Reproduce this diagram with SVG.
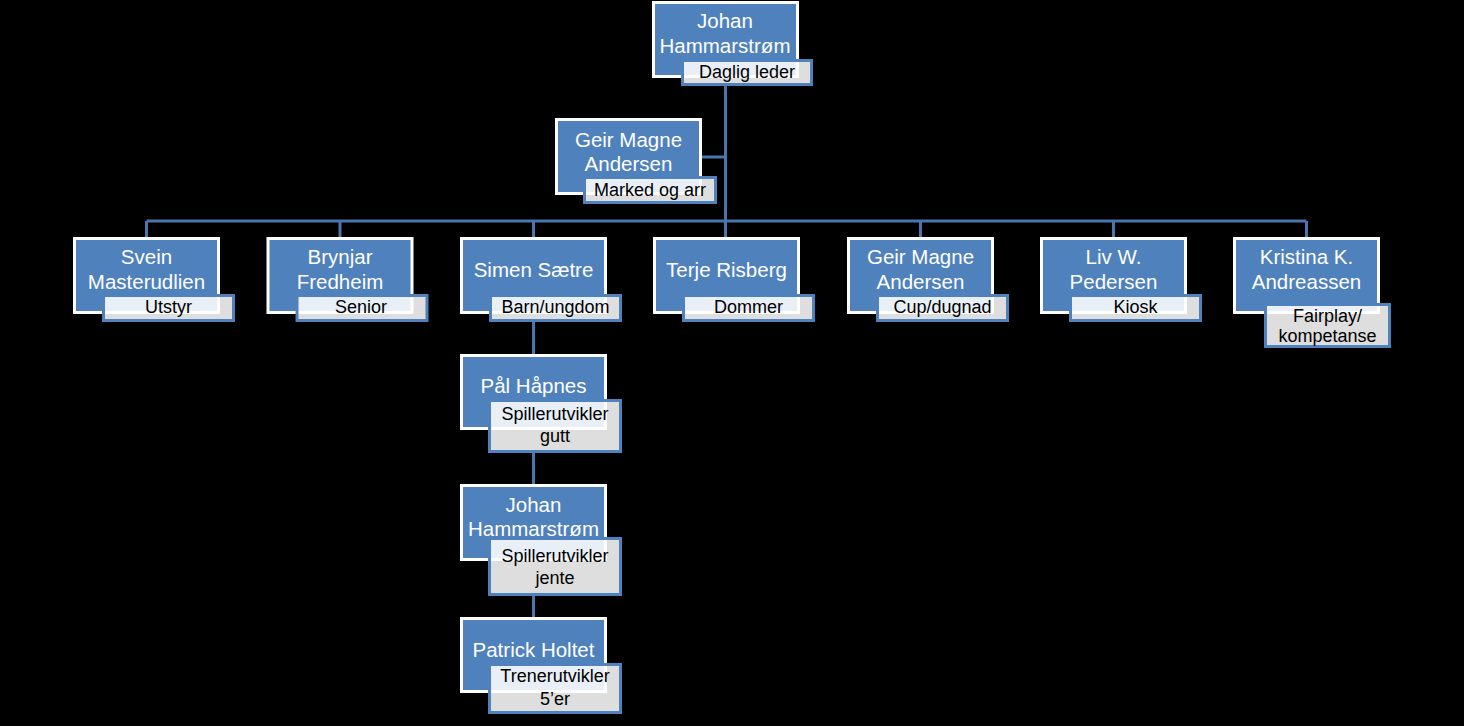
<svg xmlns="http://www.w3.org/2000/svg" width="1464" height="726" viewBox="0 0 1464 726">
<style>
.bg{fill:#000000}
.box{fill:#4f81bd;stroke:#ffffff;stroke-width:3}
.sub{fill:#ffffff;fill-opacity:0.87;stroke:#4f81bd;stroke-width:3}
.name{font-family:"Liberation Sans",Arial,sans-serif;font-size:20.5px;fill:#ffffff;text-anchor:middle}
.role{font-family:"Liberation Sans",Arial,sans-serif;font-size:18px;fill:#000000;text-anchor:middle}
.conn{fill:none;stroke:#4a75ad;stroke-width:3}
</style>
<rect class="bg" x="0" y="0" width="1464" height="726"/>
<g id="connectors">
<path class="conn" d="M725.5 86 V221 M702 157 H725.5 M146.5 221 H1306.5 M146.5 221 V237 M340 221 V237 M533.5 221 V237 M725.5 221 V237 M920.5 221 V237 M1113.5 221 V237 M1306.5 221 V237 M533.5 322 V354 M533.5 453 V484 M533.5 596 V617"/>
</g>
<g id="node-daglig-leder">
<rect class="box" x="653.5" y="2.5" width="144" height="74"/>
<rect class="sub" x="682.5" y="60.5" width="129" height="24"/>
<text class="name" x="725" y="28">Johan</text>
<text class="name" x="725" y="53">Hammarstrøm</text>
<text class="role" x="747" y="78">Daglig leder</text>
</g>
<g id="node-marked">
<rect class="box" x="556.5" y="119.5" width="144" height="74"/>
<rect class="sub" x="584.5" y="177.5" width="131" height="25"/>
<text class="name" x="628.5" y="147">Geir Magne</text>
<text class="name" x="628.5" y="171">Andersen</text>
<text class="role" x="650" y="196">Marked og arr</text>
</g>
<g id="node-utstyr">
<rect class="box" x="74.5" y="238.5" width="144" height="74"/>
<rect class="sub" x="103.5" y="295.5" width="130" height="25"/>
<text class="name" x="146.5" y="264">Svein</text>
<text class="name" x="146.5" y="289">Masterudlien</text>
<text class="role" x="168.5" y="313">Utstyr</text>
</g>
<g id="node-senior">
<rect class="box" x="268" y="238.5" width="144" height="74"/>
<rect class="sub" x="297" y="295.5" width="130" height="25"/>
<text class="name" x="340" y="264">Brynjar</text>
<text class="name" x="340" y="289">Fredheim</text>
<text class="role" x="361" y="313">Senior</text>
</g>
<g id="node-barn">
<rect class="box" x="461.5" y="238.5" width="144" height="74"/>
<rect class="sub" x="490.5" y="295.5" width="130" height="25"/>
<text class="name" x="533.5" y="277">Simen Sætre</text>
<text class="role" x="555.5" y="313">Barn/ungdom</text>
</g>
<g id="node-dommer">
<rect class="box" x="654.5" y="238.5" width="144" height="74"/>
<rect class="sub" x="683.5" y="295.5" width="130" height="25"/>
<text class="name" x="726.5" y="277">Terje Risberg</text>
<text class="role" x="748.5" y="313">Dommer</text>
</g>
<g id="node-cup">
<rect class="box" x="848.5" y="238.5" width="144" height="74"/>
<rect class="sub" x="877.5" y="295.5" width="130" height="25"/>
<text class="name" x="920.5" y="264">Geir Magne</text>
<text class="name" x="920.5" y="289">Andersen</text>
<text class="role" x="942.5" y="313">Cup/dugnad</text>
</g>
<g id="node-kiosk">
<rect class="box" x="1041.5" y="238.5" width="144" height="74"/>
<rect class="sub" x="1070.5" y="295.5" width="130" height="25"/>
<text class="name" x="1113.5" y="264">Liv W.</text>
<text class="name" x="1113.5" y="289">Pedersen</text>
<text class="role" x="1135.5" y="313">Kiosk</text>
</g>
<g id="node-fairplay">
<rect class="box" x="1234.5" y="238.5" width="144" height="74"/>
<rect class="sub" x="1265.5" y="304.5" width="124" height="42"/>
<text class="name" x="1306.5" y="264">Kristina K.</text>
<text class="name" x="1306.5" y="289">Andreassen</text>
<text class="role" x="1327.5" y="322">Fairplay/</text>
<text class="role" x="1327.5" y="342">kompetanse</text>
</g>
<g id="node-gutt">
<rect class="box" x="461.5" y="355.5" width="144" height="73"/>
<rect class="sub" x="489.5" y="400.5" width="131" height="51"/>
<text class="name" x="533.5" y="393">Pål Håpnes</text>
<text class="role" x="555" y="420">Spillerutvikler</text>
<text class="role" x="555" y="442">gutt</text>
</g>
<g id="node-jente">
<rect class="box" x="461.5" y="485.5" width="144" height="74"/>
<rect class="sub" x="489.5" y="538.5" width="131" height="56"/>
<text class="name" x="533.5" y="512">Johan</text>
<text class="name" x="533.5" y="536">Hammarstrøm</text>
<text class="role" x="555" y="562">Spillerutvikler</text>
<text class="role" x="555" y="584">jente</text>
</g>
<g id="node-trener">
<rect class="box" x="461.5" y="618.5" width="144" height="73"/>
<rect class="sub" x="489.5" y="664.5" width="131" height="48"/>
<text class="name" x="533.5" y="657">Patrick Holtet</text>
<text class="role" x="555" y="682">Trenerutvikler</text>
<text class="role" x="555" y="705">5’er</text>
</g>
</svg>
